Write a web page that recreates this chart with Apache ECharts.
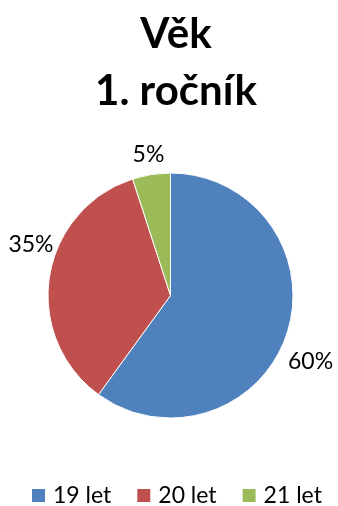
<!DOCTYPE html>
<html>
<head>
<meta charset="utf-8">
<script src="https://cdn.jsdelivr.net/npm/echarts@6/dist/echarts.min.js"></script>
<style>
  html, body { margin: 0; padding: 0; background: #ffffff; }
  #chart { width: 338px; height: 506px; }
</style>
</head>
<body>
<div id="chart"></div>
<script>
// Age distribution of first-year students
const categories = ['19 let', '20 let', '21 let'];
const shares = [60, 35, 5];
const sliceColors = ['#4F81BD', '#C0504D', '#9BBB59'];

// Small offsets that move each percentage label from its rim anchor
const labelNudge = [[1, 28], [4, -32], [13, -20]];

const chart = echarts.init(document.getElementById('chart'), null, { renderer: 'canvas' });

chart.setOption({
  animation: false,
  backgroundColor: '#ffffff',
  color: sliceColors,
  title: {
    text: 'Věk\n1. ročník',
    left: 171,
    top: 1,
    textAlign: 'center',
    textStyle: {
      fontFamily: 'Lato',
      fontWeight: 'bold',
      fontSize: 42,
      lineHeight: 57,
      color: '#000000'
    }
  },
  legend: {
    data: categories,
    left: 30,
    top: 484,
    padding: 0,
    icon: 'rect',
    itemWidth: 15,
    itemHeight: 15,
    itemGap: 24,
    textStyle: {
      fontFamily: 'Lato',
      fontSize: 23,
      color: '#000000',
      padding: [0, 0, 0, 2]
    }
  },
  series: [{
    type: 'pie',
    center: [170.5, 295.5],
    radius: 122.5,
    startAngle: 90,
    clockwise: true,
    avoidLabelOverlap: false,
    itemStyle: { borderColor: '#ffffff', borderWidth: 1 },
    label: {
      show: true,
      position: 'outside',
      formatter: '{d}%',
      distanceToLabelLine: 0,
      fontFamily: 'Lato',
      fontSize: 23,
      color: '#000000'
    },
    labelLine: { show: false, length: 0, length2: 0 },
    labelLayout: function (params) {
      const n = labelNudge[params.dataIndex];
      return { dx: n[0], dy: n[1] };
    },
    emphasis: { disabled: true },
    data: categories.map((name, i) => ({ name: name, value: shares[i] }))
  }]
});
</script>
</body>
</html>
